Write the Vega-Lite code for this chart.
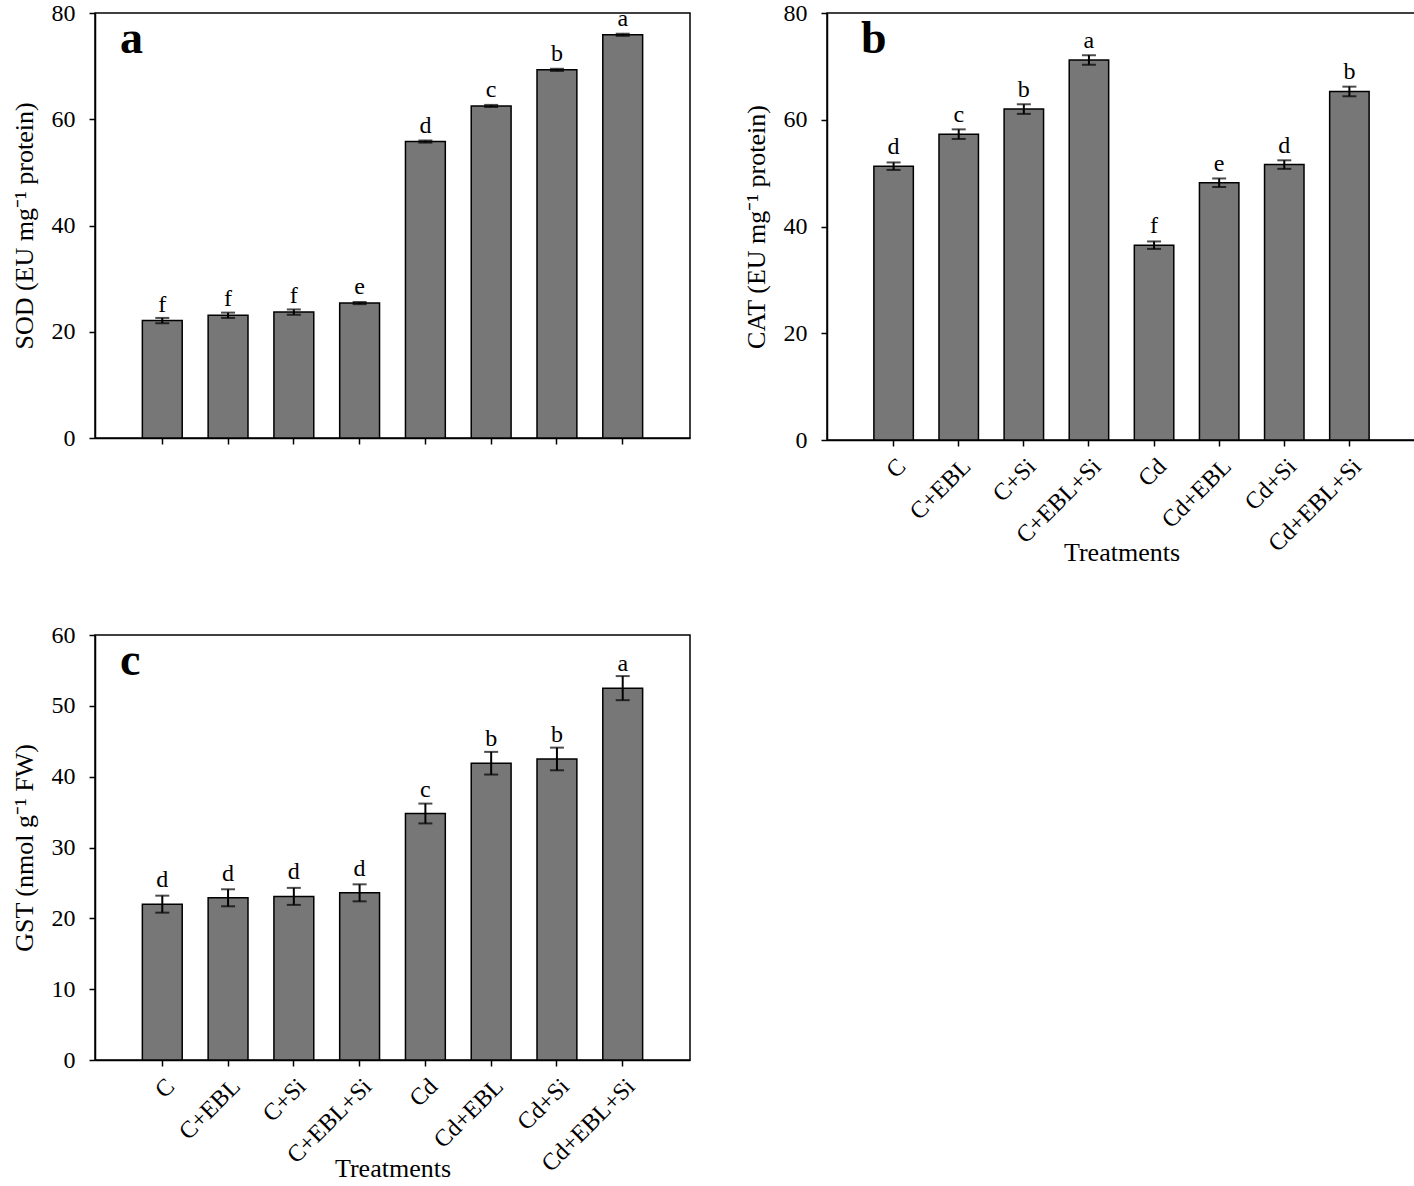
{
  "$schema": "https://vega.github.io/schema/vega-lite/v6.json",
  "background": "white",
  "padding": {"left": 10, "top": 0, "right": 0, "bottom": 2},
  "config": {
    "font": "Liberation Serif",
    "view": {"stroke": "black", "strokeWidth": 1.5},
    "axis": {
      "labelFont": "Liberation Serif", "labelFontSize": 24, "labelColor": "black",
      "titleFont": "Liberation Serif", "titleFontSize": 26, "titleFontWeight": "normal", "titleColor": "black",
      "domainColor": "black", "domainWidth": 1.5, "tickColor": "black", "tickWidth": 1.5, "tickSize": 6,
      "grid": false, "labelPadding": 14
    },
    "axisX": {"labelPadding": 8},
    "title": {"font": "Liberation Serif", "fontSize": 46, "fontWeight": "bold", "color": "black", "anchor": "start", "frame": "group", "baseline": "top"}
  },
  "datasets": {
    "sod": [
      {"t": "C", "v": 22.1, "e": 0.5, "g": "f"},
      {"t": "C+EBL", "v": 23.1, "e": 0.5, "g": "f"},
      {"t": "C+Si", "v": 23.7, "e": 0.5, "g": "f"},
      {"t": "C+EBL+Si", "v": 25.4, "e": 0.2, "g": "e"},
      {"t": "Cd", "v": 55.8, "e": 0.2, "g": "d"},
      {"t": "Cd+EBL", "v": 62.5, "e": 0.2, "g": "c"},
      {"t": "Cd+Si", "v": 69.3, "e": 0.2, "g": "b"},
      {"t": "Cd+EBL+Si", "v": 75.9, "e": 0.2, "g": "a"}
    ],
    "cat": [
      {"t": "C", "v": 51.3, "e": 0.7, "g": "d"},
      {"t": "C+EBL", "v": 57.3, "e": 0.9, "g": "c"},
      {"t": "C+Si", "v": 62.0, "e": 0.9, "g": "b"},
      {"t": "C+EBL+Si", "v": 71.2, "e": 0.9, "g": "a"},
      {"t": "Cd", "v": 36.5, "e": 0.7, "g": "f"},
      {"t": "Cd+EBL", "v": 48.2, "e": 0.8, "g": "e"},
      {"t": "Cd+Si", "v": 51.6, "e": 0.8, "g": "d"},
      {"t": "Cd+EBL+Si", "v": 65.3, "e": 0.9, "g": "b"}
    ],
    "gst": [
      {"t": "C", "v": 22.0, "e": 1.2, "g": "d"},
      {"t": "C+EBL", "v": 22.9, "e": 1.2, "g": "d"},
      {"t": "C+Si", "v": 23.1, "e": 1.2, "g": "d"},
      {"t": "C+EBL+Si", "v": 23.6, "e": 1.2, "g": "d"},
      {"t": "Cd", "v": 34.8, "e": 1.4, "g": "c"},
      {"t": "Cd+EBL", "v": 41.9, "e": 1.6, "g": "b"},
      {"t": "Cd+Si", "v": 42.5, "e": 1.6, "g": "b"},
      {"t": "Cd+EBL+Si", "v": 52.5, "e": 1.7, "g": "a"}
    ]
  },
  "spacing": 56,
  "vconcat": [
    {
      "spacing": 51,
      "hconcat": [
        {
          "width": 595, "height": 425,
          "title": {"text": "a", "offset": -62, "dx": 25},
          "data": {"name": "sod"},
          "encoding": {
            "x": {"field": "t", "type": "nominal", "sort": null,
              "scale": {"domain": ["C", "C+EBL", "C+Si", "C+EBL+Si", "Cd", "Cd+EBL", "Cd+Si", "Cd+EBL+Si"], "paddingInner": 0.394, "paddingOuter": 0.72},
              "axis": {"labels": false, "title": null}},
            "y": {"field": "v", "type": "quantitative", "scale": {"domain": [0, 80]},
              "axis": {"values": [0, 20, 40, 60, 80], "title": "SOD (EU mg⁻¹ protein)", "titlePadding": 14}}
          },
          "layer": [
            {"mark": {"type": "bar", "color": "#777777", "stroke": "black", "strokeWidth": 1.5}},
            {"mark": {"type": "errorbar", "ticks": {"size": 14, "thickness": 2, "color": "black"}, "rule": {"strokeWidth": 2, "color": "black"}},
             "encoding": {"yError": {"field": "e"}}},
            {"mark": {"type": "text", "fontSize": 24, "baseline": "bottom", "dy": -4, "color": "black"},
             "encoding": {"text": {"field": "g"}}}
          ]
        },
        {
          "width": 589, "height": 427,
          "title": {"text": "b", "offset": -62, "dx": 34},
          "data": {"name": "cat"},
          "encoding": {
            "x": {"field": "t", "type": "nominal", "sort": null,
              "scale": {"domain": ["C", "C+EBL", "C+Si", "C+EBL+Si", "Cd", "Cd+EBL", "Cd+Si", "Cd+EBL+Si"], "paddingInner": 0.394, "paddingOuter": 0.72},
              "axis": {"labelAngle": -45, "title": "Treatments", "titlePadding": -17}},
            "y": {"field": "v", "type": "quantitative", "scale": {"domain": [0, 80]},
              "axis": {"values": [0, 20, 40, 60, 80], "title": "CAT (EU mg⁻¹ protein)", "titlePadding": 14}}
          },
          "layer": [
            {"mark": {"type": "bar", "color": "#777777", "stroke": "black", "strokeWidth": 1.5}},
            {"mark": {"type": "errorbar", "ticks": {"size": 14, "thickness": 2, "color": "black"}, "rule": {"strokeWidth": 2, "color": "black"}},
             "encoding": {"yError": {"field": "e"}}},
            {"mark": {"type": "text", "fontSize": 24, "baseline": "bottom", "dy": -7, "color": "black"},
             "encoding": {"text": {"field": "g"}}}
          ]
        }
      ]
    },
    {
      "width": 595, "height": 425,
      "title": {"text": "c", "offset": -62, "dx": 25},
      "data": {"name": "gst"},
      "encoding": {
        "x": {"field": "t", "type": "nominal", "sort": null,
          "scale": {"domain": ["C", "C+EBL", "C+Si", "C+EBL+Si", "Cd", "Cd+EBL", "Cd+Si", "Cd+EBL+Si"], "paddingInner": 0.394, "paddingOuter": 0.72},
          "axis": {"labelAngle": -45, "title": "Treatments", "titlePadding": -21}},
        "y": {"field": "v", "type": "quantitative", "scale": {"domain": [0, 60]},
          "axis": {"values": [0, 10, 20, 30, 40, 50, 60], "title": "GST (nmol g⁻¹ FW)", "titlePadding": 14}}
      },
      "layer": [
        {"mark": {"type": "bar", "color": "#777777", "stroke": "black", "strokeWidth": 1.5}},
        {"mark": {"type": "errorbar", "ticks": {"size": 14, "thickness": 2, "color": "black"}, "rule": {"strokeWidth": 2, "color": "black"}},
         "encoding": {"yError": {"field": "e"}}},
        {"mark": {"type": "text", "fontSize": 24, "baseline": "bottom", "dy": -12, "color": "black"},
         "encoding": {"text": {"field": "g"}}}
      ]
    }
  ]
}
